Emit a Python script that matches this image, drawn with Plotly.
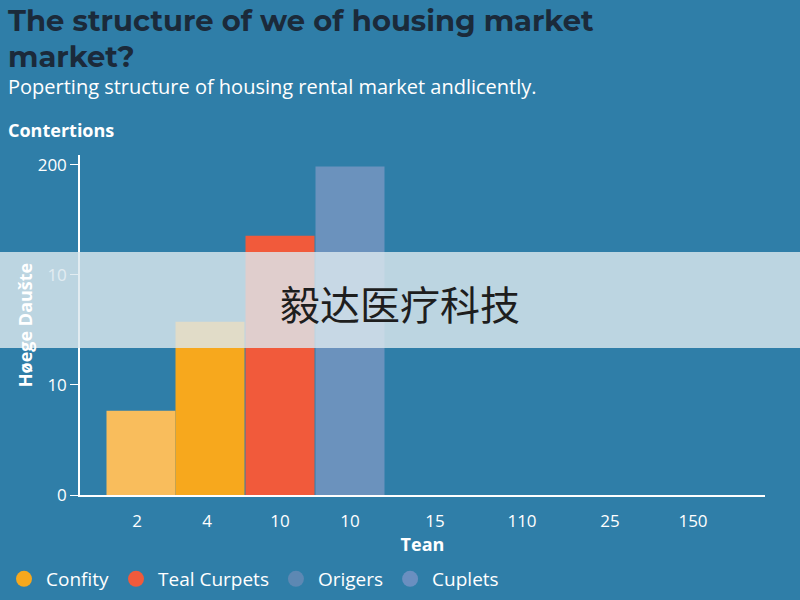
import plotly.graph_objects as go

W, H = 800, 600
L, R, T, B = 80, 35, 155, 105

categories = ["2", "4", "10", "10"]
values = [51, 105, 157, 199]
bar_colors = ["#f9bd5c", "#f7a81d", "#f15a3b", "#6b92bd"]
bar_x = [141, 210, 280, 350]

tick_pos = [137, 207, 280, 350, 435, 522, 610, 693]
tick_labels = ["2", "4", "10", "10", "15", "110", "25", "150"]
y_tickvals = [0, 66.7, 133.3, 200]
y_ticktext = ["0", "10", "10", "200"]

legend_names = ["Confity", "Teal Curpets", "Origers", "Cuplets"]
legend_colors = ["#f7a81d", "#f15a3b", "#5d88b3", "#6a8fc0"]

pw, ph = W - L - R, H - T - B
def px(x): return (x - L) / pw
def py(y): return (H - B - y) / ph

fig = go.Figure()
fig.add_trace(go.Bar(x=bar_x, y=values, width=69, marker_color=bar_colors,
                     marker_line_width=0, showlegend=False))
for n, c in zip(legend_names, legend_colors):
    fig.add_trace(go.Scatter(x=[None], y=[None], mode="markers", name=n,
                             marker=dict(size=20, color=c, symbol="circle")))

bg = "#2f7ea8"
fig.update_layout(
    width=W, height=H, paper_bgcolor=bg, plot_bgcolor=bg,
    margin=dict(l=L, r=R, t=T, b=B, autoexpand=False),
    font=dict(family="Open Sans", color="white"),
    xaxis=dict(range=[80, 765], tickvals=tick_pos, ticktext=tick_labels, automargin=False,
               showgrid=False, zeroline=False, showline=True, linecolor="white",
               linewidth=1.5, ticks="outside", ticklen=10, tickcolor=bg,
               tickfont=dict(size=17, color="white"),
               title=dict(text="<b>Tean</b>", font=dict(size=18, color="white"), standoff=6)),
    yaxis=dict(range=[0, 206], tickvals=y_tickvals, ticktext=y_ticktext, automargin=False,
               showgrid=False, zeroline=False, showline=True, linecolor="white",
               linewidth=1.5, ticks="outside", ticklen=8, tickcolor="white",
               tickfont=dict(size=17, color="white"),
               title=dict(text="<b>Høege Daušte</b>", font=dict(size=18, color="white"), standoff=0)),
    legend=dict(orientation="h", x=px(2), y=py(560), xanchor="left", yanchor="top",
                font=dict(size=19, color="white"), bgcolor="rgba(0,0,0,0)",
                itemwidth=34, tracegroupgap=0),
    showlegend=True,
)

fig.add_shape(type="rect", xref="paper", yref="paper", x0=px(-20), x1=px(W + 20),
              y0=py(348), y1=py(252), fillcolor="rgba(220,232,238,0.82)", line_width=0, layer="above")

ann = [
    dict(x=6, y=1, text="<b>The structure of we of housing market</b>",
         size=29, color="#1b2a3a", family="Montserrat, Open Sans"),
    dict(x=6, y=37, text="<b>market?</b>",
         size=29, color="#1b2a3a", family="Montserrat, Open Sans"),
    dict(x=6, y=71, text="Poperting structure of housing rental market andlicently.",
         size=20, color="white", family="Open Sans"),
    dict(x=6, y=116, text="<b>Contertions</b>", size=18, color="white", family="Open Sans"),
]
for a in ann:
    fig.add_annotation(xref="paper", yref="paper", x=px(a["x"]), y=py(a["y"]),
                       xanchor="left", yanchor="top", showarrow=False, align="left",
                       text=a["text"], font=dict(size=a["size"], color=a["color"], family=a["family"]))
fig.add_annotation(xref="paper", yref="paper", x=px(400), y=py(303), showarrow=False,
                   text="毅达医疗科技", font=dict(size=40, color="#1e1e1e", family="Noto Sans CJK SC"))

fig.write_html("out.html", config={"displayModeBar": False},
               post_script="document.body.style.margin='0';document.body.style.overflow='hidden';")
